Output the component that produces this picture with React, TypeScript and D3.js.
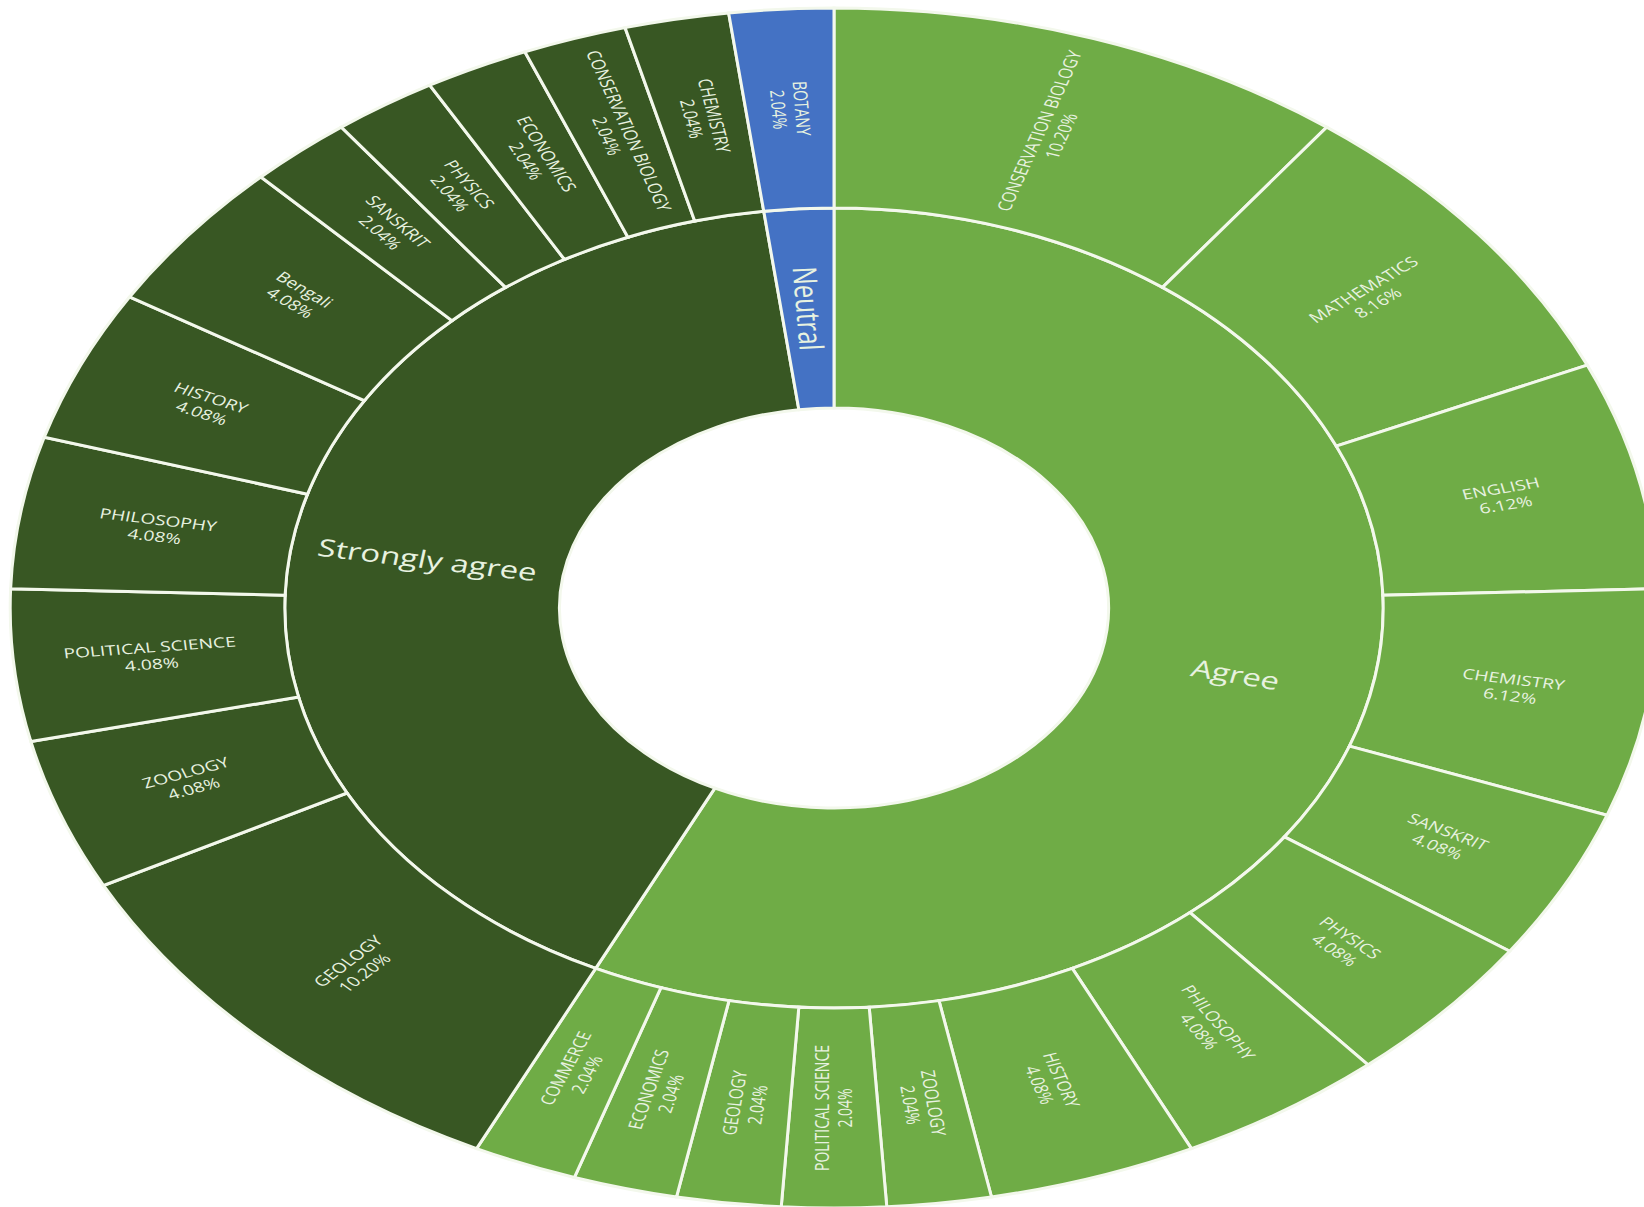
import React from 'react';
import * as d3 from 'd3';

const groups = ['Agree', 'Strongly agree', 'Neutral'];
const groupColors = ['#6FAC46', '#385723', '#4472C4'];

const agreeSubjects = [
  'CONSERVATION BIOLOGY', 'MATHEMATICS', 'ENGLISH', 'CHEMISTRY', 'SANSKRIT', 'PHYSICS',
  'PHILOSOPHY', 'HISTORY', 'ZOOLOGY', 'POLITICAL SCIENCE', 'GEOLOGY', 'ECONOMICS', 'COMMERCE',
];
const agreeValues = [10.2, 8.16, 6.12, 6.12, 4.08, 4.08, 4.08, 4.08, 2.04, 2.04, 2.04, 2.04, 2.04];

const stronglySubjects = [
  'GEOLOGY', 'ZOOLOGY', 'POLITICAL SCIENCE', 'PHILOSOPHY', 'HISTORY', 'Bengali',
  'SANSKRIT', 'PHYSICS', 'ECONOMICS', 'CONSERVATION BIOLOGY', 'CHEMISTRY',
];
const stronglyValues = [10.2, 4.08, 4.08, 4.08, 4.08, 4.08, 2.04, 2.04, 2.04, 2.04, 2.04];

const neutralSubjects = ['BOTANY'];
const neutralValues = [2.04];

const subjectLists = [agreeSubjects, stronglySubjects, neutralSubjects];
const valueLists = [agreeValues, stronglyValues, neutralValues];

const W = 1644;
const H = 1207;
const CX = 834;
const CY = 608;
const R = 600;
const SX = 1.373;
const FONT = "'Open Sans', 'Noto Sans', sans-serif";
const TEXT_COLOR = '#E8F2E0';

type Node = { name: string; color?: string; value?: number; children?: Node[] };

export default function App() {
  const data: Node = {
    name: 'root',
    children: groups.map((g, i) => ({
      name: g,
      color: groupColors[i],
      children: subjectLists[i].map((s, j) => ({ name: s, value: valueLists[i][j] })),
    })),
  };
  const root = d3.hierarchy<Node>(data).sum((d) => d.value ?? 0);
  d3.partition<Node>().size([2 * Math.PI, 3])(root);
  const rScale = d3.scaleLinear().domain([0, 3]).range([0, R]);
  const arc = d3
    .arc<any>()
    .startAngle((d: any) => d.x0)
    .endAngle((d: any) => d.x1)
    .innerRadius((d: any) => rScale(d.y0))
    .outerRadius((d: any) => rScale(d.y1));

  const nodes = root.descendants().filter((d) => d.depth > 0) as any[];
  const colorOf = (d: any) => (d.depth === 1 ? d.data.color : d.parent.data.color);

  const labelTransform = (d: any) => {
    const a = (d.x0 + d.x1) / 2;
    const r = rScale((d.y0 + d.y1) / 2);
    const deg = (a * 180) / Math.PI;
    const rot = deg < 180 ? deg - 90 : deg + 90;
    return `translate(${Math.sin(a) * r},${-Math.cos(a) * r}) rotate(${rot})`;
  };

  return (
    <svg
      width={W}
      height={H}
      style={{ position: 'absolute', left: 0, top: 0, background: '#fff' }}
    >
      <g transform={`translate(${CX},${CY}) scale(${SX},1)`}>
        {nodes.map((d, i) => (
          <path
            key={'p' + i}
            d={arc(d) as string}
            fill={colorOf(d)}
            stroke="#F3F8EC"
            strokeWidth={3}
            vectorEffect="non-scaling-stroke"
          />
        ))}
        {nodes.map((d, i) =>
          d.depth === 1 ? (
            <text
              key={'t' + i}
              transform={labelTransform(d)}
              textAnchor="middle"
              dy="0.35em"
              fontFamily={FONT}
              fontSize={24}
              fontWeight={500}
              fill={TEXT_COLOR}
            >
              {d.data.name}
            </text>
          ) : (
            <text
              key={'t' + i}
              transform={labelTransform(d)}
              textAnchor="middle"
              fontFamily={FONT}
              fontSize={14}
              fill={TEXT_COLOR}
            >
              <tspan x={0} dy="-0.25em">{d.data.name}</tspan>
              <tspan x={0} dy="1.2em">{(d.value as number).toFixed(2) + '%'}</tspan>
            </text>
          )
        )}
      </g>
    </svg>
  );
}
